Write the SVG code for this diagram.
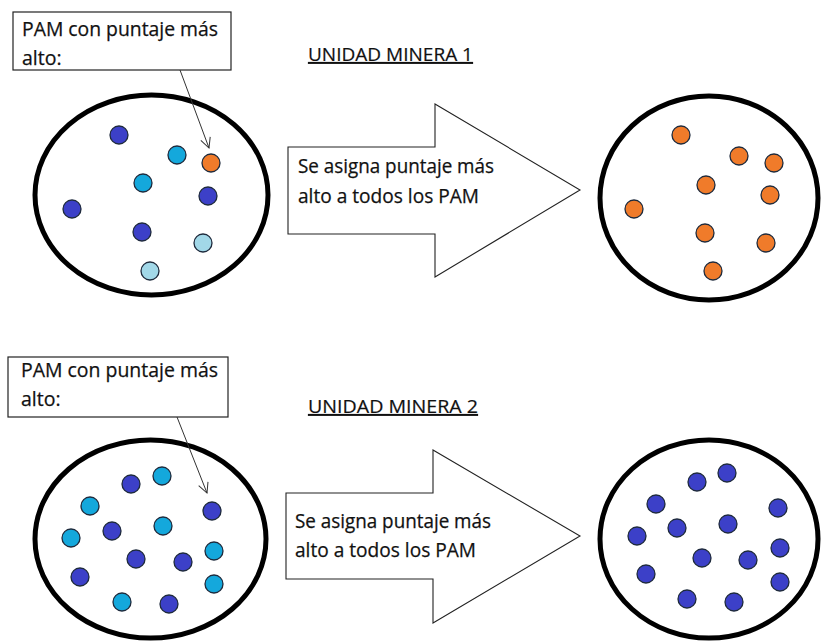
<svg xmlns="http://www.w3.org/2000/svg" width="822" height="643" viewBox="0 0 822 643">
<style>
  .bg{fill:#ffffff}
  .box{fill:#ffffff;stroke:#222222;stroke-width:1.2}
  .txt{font-family:"Open Sans","Liberation Sans",sans-serif;font-size:19.5px;fill:#111111;stroke:#111111;stroke-width:0.25}
  .title{font-family:"Open Sans","Liberation Sans",sans-serif;font-size:19px;fill:#111111;stroke:#111111;stroke-width:0.2;text-decoration:underline}
  .ell{fill:#ffffff;stroke:#000000;stroke-width:5}
  .barrow{fill:#ffffff;stroke:#222222;stroke-width:1.1}
  .d{stroke:#1e2a3c;stroke-width:1.3}
  .db{fill:#3c40c8}
  .cy{fill:#14a8dc}
  .lb{fill:#a2d8e8}
  .or{fill:#f07b2a}
  .conn{fill:none;stroke:#333333;stroke-width:1}
</style>
<defs>
  <marker id="open" viewBox="0 0 12 12" refX="11" refY="6" markerWidth="12" markerHeight="12" markerUnits="userSpaceOnUse" orient="auto">
    <path d="M1,1 L11,6 L1,11" fill="none" stroke="#333333" stroke-width="1"/>
  </marker>
</defs>
<rect class="bg" x="0" y="0" width="822" height="643"/>

<g id="callout1">
  <rect class="box" x="13" y="12" width="218" height="58"/>
  <text class="txt" x="22" y="36" textLength="196" lengthAdjust="spacingAndGlyphs">PAM con puntaje más</text>
  <text class="txt" x="22" y="65">alto:</text>
</g>
<g id="title1">
  <text class="title" x="308" y="61" textLength="165" lengthAdjust="spacingAndGlyphs">UNIDAD MINERA 1</text>
</g>
<g id="set1-before">
  <ellipse class="ell" cx="151.5" cy="195" rx="116.5" ry="100"/>
  <g class="d">
    <circle class="db" cx="119" cy="135" r="9"/>
    <circle class="cy" cx="177" cy="155" r="9"/>
    <circle class="or" cx="211" cy="163" r="9"/>
    <circle class="cy" cx="143" cy="183" r="9"/>
    <circle class="db" cx="208" cy="196" r="9"/>
    <circle class="db" cx="72" cy="209" r="9"/>
    <circle class="db" cx="142" cy="232" r="9"/>
    <circle class="lb" cx="203" cy="243" r="9"/>
    <circle class="lb" cx="150" cy="271" r="9"/>
  </g>
</g>
<g id="arrow1">
  <polygon class="barrow" points="288,147 435,147 435,104 580,190 435,277 435,234 288,234"/>
  <text class="txt" x="298" y="173" textLength="196" lengthAdjust="spacingAndGlyphs">Se asigna puntaje más</text>
  <text class="txt" x="298" y="203" textLength="181" lengthAdjust="spacingAndGlyphs">alto a todos los PAM</text>
</g>
<g id="set1-after">
  <ellipse class="ell" cx="709" cy="198" rx="109" ry="102"/>
  <g class="d or">
    <circle cx="681" cy="135" r="9"/>
    <circle cx="739" cy="156" r="9"/>
    <circle cx="774" cy="163" r="9"/>
    <circle cx="706" cy="185" r="9"/>
    <circle cx="770" cy="195" r="9"/>
    <circle cx="634" cy="209" r="9"/>
    <circle cx="705" cy="233" r="9"/>
    <circle cx="766" cy="243" r="9"/>
    <circle cx="713" cy="271" r="9"/>
  </g>
</g>

<g id="callout2">
  <rect class="box" x="8" y="357" width="220" height="60"/>
  <text class="txt" x="21" y="377" textLength="197" lengthAdjust="spacingAndGlyphs">PAM con puntaje más</text>
  <text class="txt" x="21" y="406">alto:</text>
</g>
<g id="title2">
  <text class="title" x="308" y="413" textLength="170" lengthAdjust="spacingAndGlyphs">UNIDAD MINERA 2</text>
</g>
<g id="set2-before">
  <ellipse class="ell" cx="150.5" cy="539" rx="115.5" ry="99"/>
  <g class="d">
    <circle class="db" cx="131" cy="484" r="9"/>
    <circle class="cy" cx="162" cy="476" r="9"/>
    <circle class="cy" cx="90" cy="506" r="9"/>
    <circle class="db" cx="212" cy="511" r="9"/>
    <circle class="db" cx="112" cy="531" r="9"/>
    <circle class="cy" cx="163" cy="526" r="9"/>
    <circle class="cy" cx="71" cy="538" r="9"/>
    <circle class="cy" cx="214" cy="551" r="9"/>
    <circle class="db" cx="136" cy="559" r="9"/>
    <circle class="db" cx="183" cy="562" r="9"/>
    <circle class="db" cx="80" cy="577" r="9"/>
    <circle class="cy" cx="214" cy="584" r="9"/>
    <circle class="cy" cx="122" cy="602" r="9"/>
    <circle class="db" cx="169" cy="604" r="9"/>
  </g>
</g>
<g id="arrow2">
  <polygon class="barrow" points="286,493 433,493 433,450 580,536 433,623 433,579 286,579"/>
  <text class="txt" x="295" y="528" textLength="196" lengthAdjust="spacingAndGlyphs">Se asigna puntaje más</text>
  <text class="txt" x="295" y="557" textLength="181" lengthAdjust="spacingAndGlyphs">alto a todos los PAM</text>
</g>
<g id="set2-after">
  <ellipse class="ell" cx="709" cy="539" rx="109" ry="99"/>
  <g class="d db">
    <circle cx="697" cy="482" r="9"/>
    <circle cx="727" cy="473" r="9"/>
    <circle cx="656" cy="504" r="9"/>
    <circle cx="778" cy="508" r="9"/>
    <circle cx="677" cy="528" r="9"/>
    <circle cx="728" cy="524" r="9"/>
    <circle cx="637" cy="536" r="9"/>
    <circle cx="702" cy="558" r="9"/>
    <circle cx="748" cy="560" r="9"/>
    <circle cx="780" cy="548" r="9"/>
    <circle cx="646" cy="574" r="9"/>
    <circle cx="780" cy="582" r="9"/>
    <circle cx="687" cy="599" r="9"/>
    <circle cx="734" cy="602" r="9"/>
  </g>
</g>

<g id="connectors">
  <line class="conn" x1="180" y1="70" x2="209" y2="148" marker-end="url(#open)"/>
  <line class="conn" x1="177" y1="417" x2="207" y2="493" marker-end="url(#open)"/>
</g>
</svg>
